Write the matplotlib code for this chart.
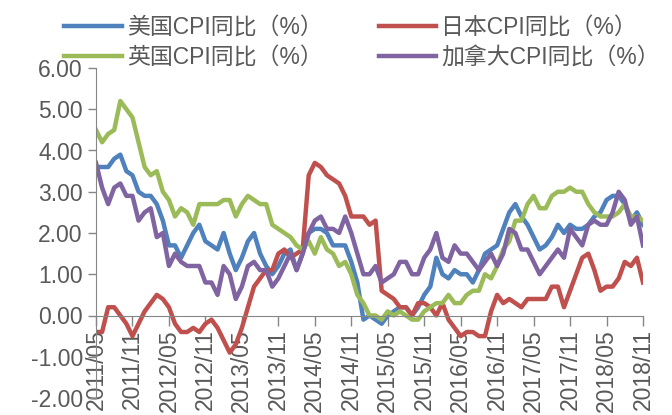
import numpy as np
import matplotlib.pyplot as plt

plt.rcParams['font.family'] = ['Liberation Sans', 'Noto Sans CJK SC', 'DejaVu Sans']

# 2011/05 - 2018/11 monthly
us = [3.6, 3.6, 3.6, 3.8, 3.9, 3.5, 3.4, 3.0,
      2.9, 2.9, 2.7, 2.3, 1.7, 1.7, 1.4, 1.7, 2.0, 2.2, 1.8, 1.7,
      1.6, 2.0, 1.5, 1.1, 1.4, 1.8, 2.0, 1.5, 1.2, 1.0, 1.2, 1.5,
      1.6, 1.1, 1.5, 2.0, 2.1, 2.1, 2.0, 1.7, 1.7, 1.7, 1.3, 0.8,
      -0.1, 0.0, -0.1, -0.2, 0.0, 0.1, 0.2, 0.2, 0.0, 0.2, 0.5, 0.7,
      1.4, 1.0, 0.9, 1.1, 1.0, 1.0, 0.8, 1.1, 1.5, 1.6, 1.7, 2.1,
      2.5, 2.7, 2.4, 2.2, 1.9, 1.6, 1.7, 1.9, 2.2, 2.0, 2.2, 2.1,
      2.1, 2.2, 2.4, 2.5, 2.8, 2.9, 2.9, 2.7, 2.3, 2.5, 2.2]
japan = [-0.4, -0.4, 0.2, 0.2, 0.0, -0.2, -0.5, -0.2,
         0.1, 0.3, 0.5, 0.4, 0.2, -0.2, -0.4, -0.4, -0.3, -0.4, -0.2, -0.1,
         -0.3, -0.6, -0.9, -0.7, -0.3, 0.2, 0.7, 0.9, 1.1, 1.1, 1.5, 1.6,
         1.4, 1.5, 1.6, 3.4, 3.7, 3.6, 3.4, 3.3, 3.2, 2.9, 2.4, 2.4,
         2.4, 2.2, 2.3, 0.6, 0.5, 0.4, 0.2, 0.2, 0.0, 0.3, 0.3, 0.2,
         0.0, 0.3, -0.1, -0.3, -0.5, -0.4, -0.4, -0.5, -0.5, 0.1, 0.5, 0.3,
         0.4, 0.3, 0.2, 0.4, 0.4, 0.4, 0.4, 0.7, 0.7, 0.2, 0.6, 1.0,
         1.4, 1.5, 1.1, 0.6, 0.7, 0.7, 0.9, 1.3, 1.2, 1.4, 0.8]
uk = [4.5, 4.2, 4.4, 4.5, 5.2, 5.0, 4.8, 4.2,
      3.6, 3.4, 3.5, 3.0, 2.8, 2.4, 2.6, 2.5, 2.2, 2.7, 2.7, 2.7,
      2.7, 2.8, 2.8, 2.4, 2.7, 2.9, 2.8, 2.7, 2.7, 2.2, 2.1, 2.0,
      1.9, 1.7, 1.6, 1.8, 1.5, 1.9, 1.6, 1.5, 1.2, 1.3, 1.0, 0.5,
      0.3, 0.0, 0.0, -0.1, 0.1, 0.0, 0.1, 0.0, -0.1, -0.1, 0.1, 0.2,
      0.3, 0.3, 0.5, 0.3, 0.3, 0.5, 0.6, 0.6, 1.0, 0.9, 1.2, 1.6,
      1.8, 2.3, 2.3, 2.7, 2.9, 2.6, 2.6, 2.9, 3.0, 3.0, 3.1, 3.0,
      3.0, 2.7, 2.5, 2.4, 2.4, 2.4, 2.5, 2.7, 2.4, 2.4, 2.3]
canada = [3.7, 3.1, 2.7, 3.1, 3.2, 2.9, 2.9, 2.3,
          2.5, 2.6, 1.9, 2.0, 1.2, 1.5, 1.3, 1.2, 1.2, 1.2, 0.8, 0.8,
          0.5, 1.2, 1.0, 0.4, 0.7, 1.2, 1.3, 1.1, 1.1, 0.7, 0.9, 1.2,
          1.5, 1.1, 1.5, 2.0, 2.3, 2.4, 2.1, 2.1, 2.0, 2.4, 2.0, 1.5,
          1.0, 1.0, 1.2, 0.8, 0.9, 1.0, 1.3, 1.3, 1.0, 1.0, 1.4, 1.6,
          2.0, 1.4, 1.3, 1.7, 1.5, 1.5, 1.3, 1.1, 1.3, 1.5, 1.2, 1.5,
          2.1, 2.0, 1.6, 1.6, 1.3, 1.0, 1.2, 1.4, 1.6, 1.4, 2.1, 1.9,
          1.7, 2.2, 2.3, 2.2, 2.2, 2.5, 3.0, 2.8, 2.2, 2.4, 1.7]

labels = ['美国CPI同比（%）', '日本CPI同比（%）', '英国CPI同比（%）', '加拿大CPI同比（%）']
colors = ['#4F81BD', '#C0504D', '#9BBB59', '#8064A2']

months = []
y, m = 2011, 5
for i in range(len(us)):
    months.append('%d/%02d' % (y, m))
    m += 1
    if m > 12:
        m = 1
        y += 1
x = np.arange(len(months))

fig = plt.figure(figsize=(6.72, 4.15), dpi=100)
ax = fig.add_axes([96/672, 1-398/415, (643-96)/672, (398-68)/415])

lines = []
for d, lab, c in zip([us, japan, uk, canada], labels, colors):
    ln, = ax.plot(x, d, color=c, lw=3.2, label=lab, solid_joinstyle='round')
    lines.append(ln)

ax.set_xlim(0, len(x)-1)
ax.set_ylim(-2, 6)
ax.set_yticks(np.arange(-2, 7, 1))
ax.set_yticklabels(['%.2f' % v for v in np.arange(-2, 7, 1)])
ax.set_xticks(x[::6])
ax.set_xticklabels(months[::6])

grey = '#868686'
ax.spines['top'].set_visible(False)
ax.spines['right'].set_visible(False)
ax.spines['bottom'].set_position(('data', 0))
ax.spines['bottom'].set_color(grey)
ax.spines['left'].set_color(grey)
ax.tick_params(axis='both', colors=grey, labelcolor='#595959', labelsize=16.5,
               direction='out', length=6, width=1)
ax.tick_params(axis='x', labelrotation=90, pad=3, length=7)
ax.patch.set_visible(False)

# legend rows: US, Japan / UK, Canada (matplotlib fills column-wise)
order = [0, 2, 1, 3]
fig.legend([lines[i] for i in order], [labels[i] for i in order],
           loc='upper center', bbox_to_anchor=(0.539, 1.01), ncol=2, frameon=False,
           fontsize=16.5, handlelength=2.5, columnspacing=2.45, labelspacing=0.3,
           handletextpad=0.23, labelcolor='#595959')

fig.savefig('out.png', dpi=100)
